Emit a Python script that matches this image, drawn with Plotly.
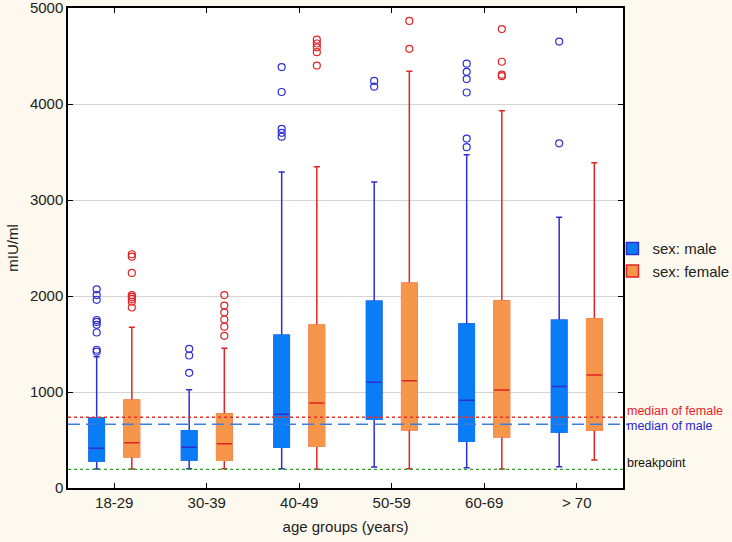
import plotly.graph_objects as go

categories = ["18-29", "30-39", "40-49", "50-59", "60-69", "> 70"]

# male statistics
male_low = [198, 201, 201, 219, 212, 222]
male_q1 = [281, 292, 424, 716, 486, 583]
male_med = [413, 424, 767, 1101, 913, 1056]
male_q3 = [732, 597, 1590, 1945, 1708, 1747]
male_high = [1368, 1024, 3292, 3187, 3472, 2820]
male_out = [
    [1420, 1440, 1620, 1700, 1730, 1750, 1960, 2010, 2070],
    [1200, 1380, 1450],
    [3660, 3700, 3740, 4125, 4385],
    [4180, 4240],
    [3550, 3640, 4120, 4260, 4335, 4420],
    [3590, 4650],
]

# female statistics
female_low = [198, 200, 195, 201, 198, 292]
female_q1 = [326, 288, 434, 607, 534, 604]
female_med = [472, 462, 885, 1118, 1021, 1177]
female_q3 = [913, 771, 1695, 2132, 1948, 1760]
female_high = [1674, 1455, 3347, 4340, 3930, 3389]
female_out = [
    [1880, 1940, 1970, 1990, 2010, 2240, 2410, 2435],
    [1585, 1680, 1755, 1830, 1900, 2010],
    [4400, 4540, 4590, 4630, 4670],
    [4575, 4865],
    [4290, 4305, 4440, 4780],
    [],
]

median_female = 736
median_male = 663
breakpoint_value = 195

FONT = "Liberation Sans, Arial, sans-serif"
OFFSET = 0.19
BOXW = 0.165

fig = go.Figure()


def add_group(name, off, low, q1, med, q3, high, outs, fill, line):
    xs = [i + off for i in range(len(categories))]
    # whiskers
    fig.add_trace(go.Box(
        x=xs, q1=q1, median=med, q3=q3, lowerfence=low, upperfence=high,
        fillcolor="rgba(0,0,0,0)", line=dict(color=line, width=1.5),
        width=BOXW, whiskerwidth=0.4, boxpoints=False, showlegend=False,
        hoverinfo="skip",
    ))
    # box body
    fig.add_trace(go.Box(
        x=xs, q1=q1, median=q1, q3=q3, lowerfence=q1, upperfence=q3,
        fillcolor=fill, line=dict(color=fill, width=1.5),
        width=BOXW, whiskerwidth=0, boxpoints=False, name=name,
        showlegend=False, hoverinfo="skip",
    ))
    # median line
    fig.add_trace(go.Box(
        x=xs, q1=med, median=med, q3=med, lowerfence=med, upperfence=med,
        fillcolor=fill, line=dict(color=line, width=1.5),
        width=BOXW, whiskerwidth=0, boxpoints=False, showlegend=False,
        hoverinfo="skip",
    ))
    # outliers
    ox, oy = [], []
    for i, vals in enumerate(outs):
        for v in vals:
            ox.append(i + off)
            oy.append(v)
    fig.add_trace(go.Scatter(
        x=ox, y=oy, mode="markers", showlegend=False,
        marker=dict(symbol="circle-open", size=7, color=line, line=dict(width=1.2)),
    ))
    # legend entry
    fig.add_trace(go.Box(
        x=[None], y=[None], name=name, fillcolor=fill,
        line=dict(color=line, width=1.5), showlegend=True,
    ))


add_group("sex: male", -OFFSET, male_low, male_q1, male_med, male_q3, male_high,
          male_out, "#0a7cf5", "#2e2ed2")
add_group("sex: female", OFFSET, female_low, female_q1, female_med, female_q3,
          female_high, female_out, "#f5964a", "#e02424")

shapes = [
    dict(type="line", xref="paper", x0=0, x1=1.006, yref="y",
         y0=median_female, y1=median_female, layer="above",
         line=dict(color="#e8302a", width=1.5, dash="dot")),
    dict(type="line", xref="paper", x0=0, x1=1.01, yref="y",
         y0=median_male, y1=median_male, layer="above",
         line=dict(color="#3c7ee0", width=1.5, dash="12px,6px")),
    dict(type="line", xref="paper", x0=0, x1=1.006, yref="y",
         y0=breakpoint_value, y1=breakpoint_value, layer="above",
         line=dict(color="#2aa02a", width=1.2, dash="dot")),
]

annotations = [
    dict(text="median of female", xref="paper", x=1.003, xanchor="left",
         yref="y", y=median_female, yshift=6, showarrow=False,
         font=dict(family=FONT, size=12.5, color="#e8202a")),
    dict(text="median of male", xref="paper", x=1.003, xanchor="left",
         yref="y", y=median_male, yshift=-2, showarrow=False,
         font=dict(family=FONT, size=12.5, color="#2828d0")),
    dict(text="breakpoint", xref="paper", x=1.003, xanchor="left",
         yref="y", y=breakpoint_value, yshift=6, showarrow=False,
         font=dict(family=FONT, size=12.5, color="#111111")),
]

fig.update_layout(
    width=732, height=542,
    margin=dict(l=68, r=109, t=8, b=54, autoexpand=False),
    paper_bgcolor="#fdf9ee", plot_bgcolor="#ffffff",
    boxmode="overlay",
    font=dict(family=FONT, size=15, color="#222222"),
    shapes=shapes, annotations=annotations,
    legend=dict(x=0.981, xanchor="left", y=0.533, yanchor="top",
                bgcolor="rgba(0,0,0,0)", font=dict(family=FONT, size=15),
                tracegroupgap=0, itemwidth=30),
)
fig.update_xaxes(
    range=[-0.5, 5.5], tickmode="array", tickvals=list(range(len(categories))),
    ticktext=categories, ticks="inside", ticklen=5, tickcolor="#000",
    showline=True, linecolor="#000", linewidth=1.5, mirror="ticks",
    showgrid=False, zeroline=False, automargin=False,
    ticklabeloverflow="allow",
    title=dict(text="age groups (years)", standoff=12, font=dict(size=15)),
)
fig.update_yaxes(
    range=[0, 5000], tickvals=[0, 1000, 2000, 3000, 4000, 5000],
    ticks="inside", ticklen=5, tickcolor="#000",
    showline=True, linecolor="#000", linewidth=1.5, mirror="ticks",
    showgrid=True, gridcolor="#d4d4d4", gridwidth=1, zeroline=False,
    automargin=False, ticklabeloverflow="allow",
    title=dict(text="mIU/ml", standoff=8, font=dict(size=15)),
)

fig.write_html(
    "out.html",
    config={"displayModeBar": False},
    post_script="document.body.style.margin='0';document.body.style.overflow='hidden';",
)
